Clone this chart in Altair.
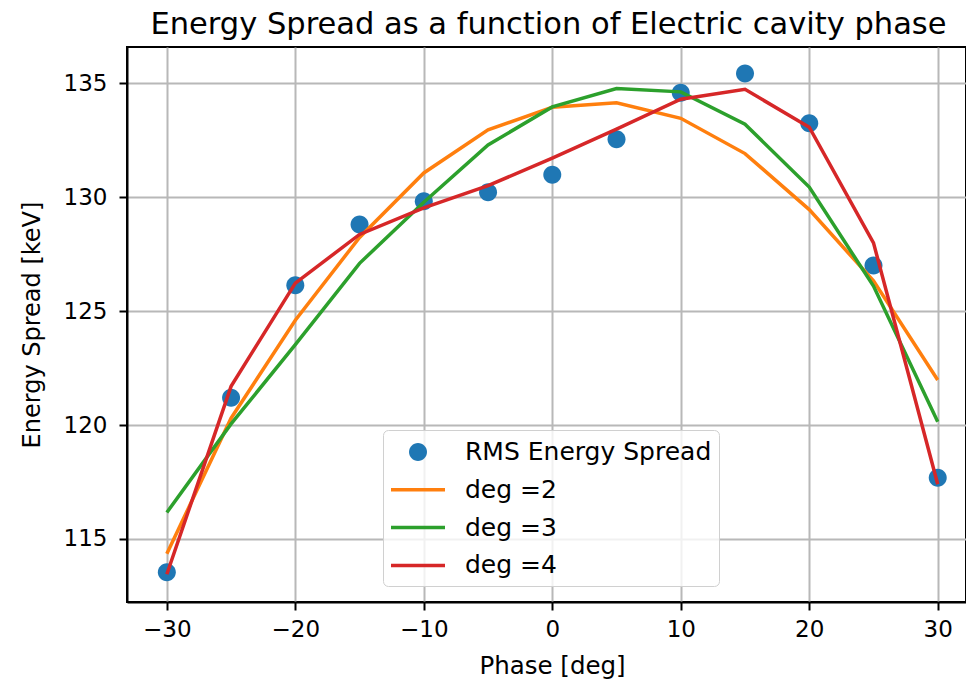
import altair as alt
import pandas as pd

phase = [-30, -25, -20, -15, -10, -5, 0, 5, 10, 15, 20, 25, 30]
rms = [113.54, 121.2, 126.14, 128.81, 129.83, 130.22, 130.99, 132.55, 134.59, 135.44, 133.25, 127.01, 117.69]
deg2 = [114.35, 120.3, 124.6, 128.24, 131.07, 132.96, 133.95, 134.15, 133.47, 131.92, 129.46, 126.33, 121.98]
deg3 = [116.16, 120.05, 123.53, 127.1, 129.78, 132.3, 133.97, 134.78, 134.63, 133.21, 130.45, 126.1, 120.14]
deg4 = [113.45, 121.7, 126.23, 128.37, 129.54, 130.51, 131.72, 132.99, 134.31, 134.74, 133.08, 128.0, 117.4]

series_names = ["RMS Energy Spread", "deg =2", "deg =3", "deg =4"]
series_colors = ["#1f77b4", "#ff7f0e", "#2ca02c", "#d62728"]

# symbol shapes (unit paths): a dot for the measured points, a short bar for fitted lines
DOT = "M-0.6,0A0.6,0.6 0 1,0 0.6,0A0.6,0.6 0 1,0 -0.6,0Z"
BAR = "M-1.8,-0.117H1.8V0.117H-1.8Z"
series_shapes = [DOT, BAR, BAR, BAR]
SYM = 900

rows = []
for name, vals in zip(series_names, [rms, deg2, deg3, deg4]):
    for i, (p, v) in enumerate(zip(phase, vals)):
        rows.append({"phase": p, "value": v, "series": name, "order": i})
df = pd.DataFrame(rows)

FONT = "DejaVu Sans"

legend = alt.Legend(
    title=None,
    orient="none",
    legendX=256,
    legendY=383,
    symbolSize=SYM,
    symbolOpacity=1,
    symbolStrokeWidth=0,
    symbolOffset=13,
    labelFontSize=25,
    labelFont=FONT,
    labelColor="black",
    labelOffset=32,
    labelLimit=500,
    rowPadding=9.8,
    padding=7,
    fillColor="rgba(255,255,255,0.8)",
    strokeColor="#d0d0d0",
    cornerRadius=5,
)

color = alt.Color(
    "series:N",
    scale=alt.Scale(domain=series_names, range=series_colors),
    legend=legend,
)
shape = alt.Shape(
    "series:N",
    scale=alt.Scale(domain=series_names, range=series_shapes),
    legend=legend,
)

x = alt.X(
    "phase:Q",
    scale=alt.Scale(domain=[-33.1, 32.2], nice=False, zero=False),
    axis=alt.Axis(values=[-30, -20, -10, 0, 10, 20, 30], title="Phase [deg]",
                  titlePadding=13, titleX=425, titleFontSize=24.5),
)
y = alt.Y(
    "value:Q",
    scale=alt.Scale(domain=[112.23, 136.6], nice=False, zero=False),
    axis=alt.Axis(values=[115, 120, 125, 130, 135], title="Energy Spread [keV]",
                  titlePadding=19, labelPadding=12),
)

base = alt.Chart(df).encode(x=x, y=y, color=color)

points = (
    base.transform_filter(alt.datum.series == "RMS Energy Spread")
    .mark_point(filled=True, size=SYM, opacity=1, strokeWidth=0)
    .encode(shape=shape)
)
lines = (
    base.transform_filter(alt.datum.series != "RMS Energy Spread")
    .mark_line(strokeWidth=3.5)
    .encode(order="order:Q")
)

chart = (
    alt.layer(points, lines)
    .properties(
        width=839,
        height=555,
        autosize="none",
        padding={"left": 127, "top": 47, "right": 0, "bottom": 82},
        title=alt.TitleParams(
            "Energy Spread as a function of Electric cavity phase",
            font=FONT,
            fontSize=30.5,
            fontWeight="normal",
            color="black",
            anchor="middle",
            dx=2,
            offset=7,
        ),
        background="white",
    )
    .configure_view(stroke="black", strokeWidth=2)
    .configure_axis(
        labelFont=FONT,
        labelFontSize=23,
        labelColor="black",
        titleFont=FONT,
        titleFontSize=24,
        titleFontWeight="normal",
        titleColor="black",
        domainColor="black",
        domainWidth=2,
        tickColor="black",
        tickWidth=2,
        tickSize=8,
        gridColor="#b8b8b8",
        gridWidth=2,
        labelPadding=8,
    )
)

chart.save("out.html", embed_options={"renderer": "svg", "actions": False})
